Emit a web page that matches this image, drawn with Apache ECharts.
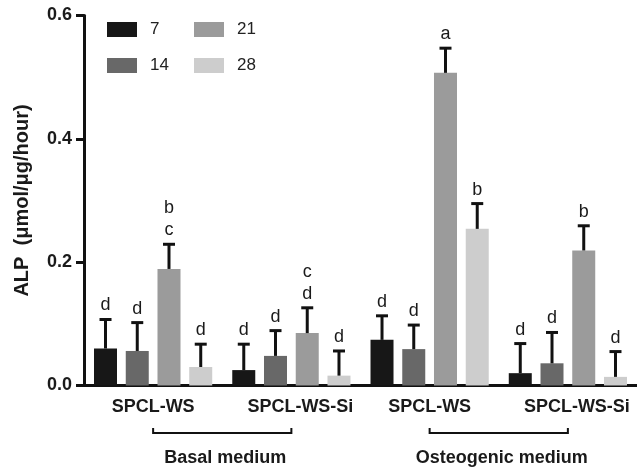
<!DOCTYPE html>
<html>
<head>
<meta charset="utf-8">
<script src="https://cdn.jsdelivr.net/npm/echarts@6/dist/echarts.min.js"></script>
<style>html,body{margin:0;padding:0;background:#fff;}#c{width:637px;height:470px;}</style>
</head>
<body>
<div id="c"></div>
<script>
const categories = ['SPCL-WS', 'SPCL-WS-Si', 'SPCL-WS', 'SPCL-WS-Si'];
const media = ['Basal medium', 'Osteogenic medium'];
const days = ['7', '14', '21', '28'];
const yTickValues = [0, 0.2, 0.4, 0.6];

const mean7  = [0.060, 0.025, 0.074, 0.020];
const mean14 = [0.056, 0.048, 0.059, 0.036];
const mean21 = [0.189, 0.085, 0.507, 0.219];
const mean28 = [0.030, 0.016, 0.254, 0.014];

const sd7  = [0.047, 0.042, 0.039, 0.048];
const sd14 = [0.046, 0.041, 0.039, 0.050];
const sd21 = [0.040, 0.041, 0.040, 0.040];
const sd28 = [0.037, 0.040, 0.041, 0.041];

const letters7  = ['d', 'd', 'd', 'd'];
const letters14 = ['d', 'd', 'd', 'd'];
const letters21 = ['b\nc', 'c\nd', 'a', 'b'];
const letters28 = ['d', 'd', 'b', 'd'];

const means = [mean7, mean14, mean21, mean28];
const sds = [sd7, sd14, sd21, sd28];
const letters = [letters7, letters14, letters21, letters28];
const colors = ['#171717', '#686868', '#9b9b9b', '#cdcdcd'];

const FONT = '"Liberation Sans", Arial, sans-serif';
const BAR_W = 23;
const BAR_GAP = 0.38;
const PITCH = BAR_W * (1 + BAR_GAP);

const chart = echarts.init(document.getElementById('c'), null, {renderer: 'canvas'});

const barSeries = days.map((d, k) => ({
  name: d,
  type: 'bar',
  data: means[k],
  barWidth: BAR_W,
  barGap: (BAR_GAP * 100) + '%',
  itemStyle: {color: colors[k]},
  z: 2,
  silent: true
}));

function makeErr(k) {
  return {
    type: 'custom',
    name: 'err' + k,
    z: 5,
    silent: true,
    data: means[k].map((m, i) => [i, m, sds[k][i]]),
    renderItem: function (params, api) {
      const i = api.value(0), m = api.value(1), s = api.value(2);
      const b = api.coord([i, m]);
      const t = api.coord([i, m + s]);
      const x = b[0] + (k - 1.5) * PITCH;
      return {
        type: 'group',
        children: [
          {type: 'line', shape: {x1: x, y1: b[1], x2: x, y2: t[1]}, style: {stroke: '#111', lineWidth: 3}},
          {type: 'line', shape: {x1: x - 6, y1: t[1], x2: x + 6, y2: t[1]}, style: {stroke: '#111', lineWidth: 3}},
          {type: 'text', style: {text: letters[k][params.dataIndex], x: x, y: t[1] - 3, align: 'center', verticalAlign: 'bottom',
            fontSize: 18, lineHeight: 22, fontFamily: FONT, fill: '#1a1a1a'}}
        ]
      };
    }
  };
}

const legendCommon = {
  orient: 'vertical',
  top: 16,
  itemWidth: 30,
  itemHeight: 15,
  itemGap: 19,
  icon: 'rect',
  selectedMode: false,
  textStyle: {fontSize: 17, fontFamily: FONT, color: '#222', lineHeight: 15, padding: [0, 0, 0, 8]}
};

const option = {
  backgroundColor: '#fff',
  animation: false,
  grid: {left: 84, right: 0, top: 15.5, bottom: 84.5, containLabel: false},
  legend: [
    Object.assign({}, legendCommon, {left: 102, data: [days[0], days[1]]}),
    Object.assign({}, legendCommon, {left: 189, data: [days[2], days[3]]})
  ],
  xAxis: {
    type: 'category',
    data: categories,
    axisLine: {lineStyle: {color: '#111', width: 3}},
    axisTick: {alignWithLabel: true, length: 8, lineStyle: {color: '#111', width: 3}},
    axisLabel: {
      margin: 13,
      formatter: function (v, i) { return (i % 2 ? '{si|' : '{ws|') + v + '}'; },
      rich: {
        ws: {fontSize: 18, fontWeight: 'bold', fontFamily: FONT, color: '#1a1a1a'},
        si: {fontSize: 18, fontWeight: 'bold', fontFamily: FONT, color: '#1a1a1a', padding: [0, 0, 0, 18]}
      }
    }
  },
  yAxis: {
    type: 'value',
    min: yTickValues[0],
    max: yTickValues[yTickValues.length - 1],
    interval: 0.2,
    name: 'ALP  (μmol/μg/hour)',
    nameLocation: 'middle',
    nameGap: 52,
    nameTextStyle: {fontSize: 20, fontWeight: 'bold', fontFamily: FONT, color: '#1a1a1a'},
    splitLine: {show: false},
    axisLine: {show: true, lineStyle: {color: '#111', width: 3}},
    axisTick: {show: true, length: 8, lineStyle: {color: '#111', width: 3}},
    axisLabel: {margin: 12, fontSize: 18, fontWeight: 'bold', fontFamily: FONT, color: '#1a1a1a',
      formatter: function (v) { return v.toFixed(1); }}
  },
  series: barSeries.concat(days.map((d, k) => makeErr(k)))
};

chart.setOption(option);

// Brackets under the x axis, spanning category centres of each medium
const graphics = [];
media.forEach(function (name, g) {
  const x1 = chart.convertToPixel({xAxisIndex: 0}, 2 * g);
  const x2 = chart.convertToPixel({xAxisIndex: 0}, 2 * g + 1);
  const y = 433;
  graphics.push({
    type: 'polyline',
    shape: {points: [[x1, y - 5], [x1, y], [x2, y], [x2, y - 5]]},
    style: {stroke: '#111', lineWidth: 2, fill: null}
  });
  graphics.push({
    type: 'text',
    x: (x1 + x2) / 2 + 3,
    y: 458,
    style: {text: name, align: 'center', verticalAlign: 'middle', fontSize: 18, fontWeight: 'bold', fontFamily: FONT, fill: '#1a1a1a'}
  });
});
chart.setOption({graphic: graphics});
</script>
</body>
</html>
